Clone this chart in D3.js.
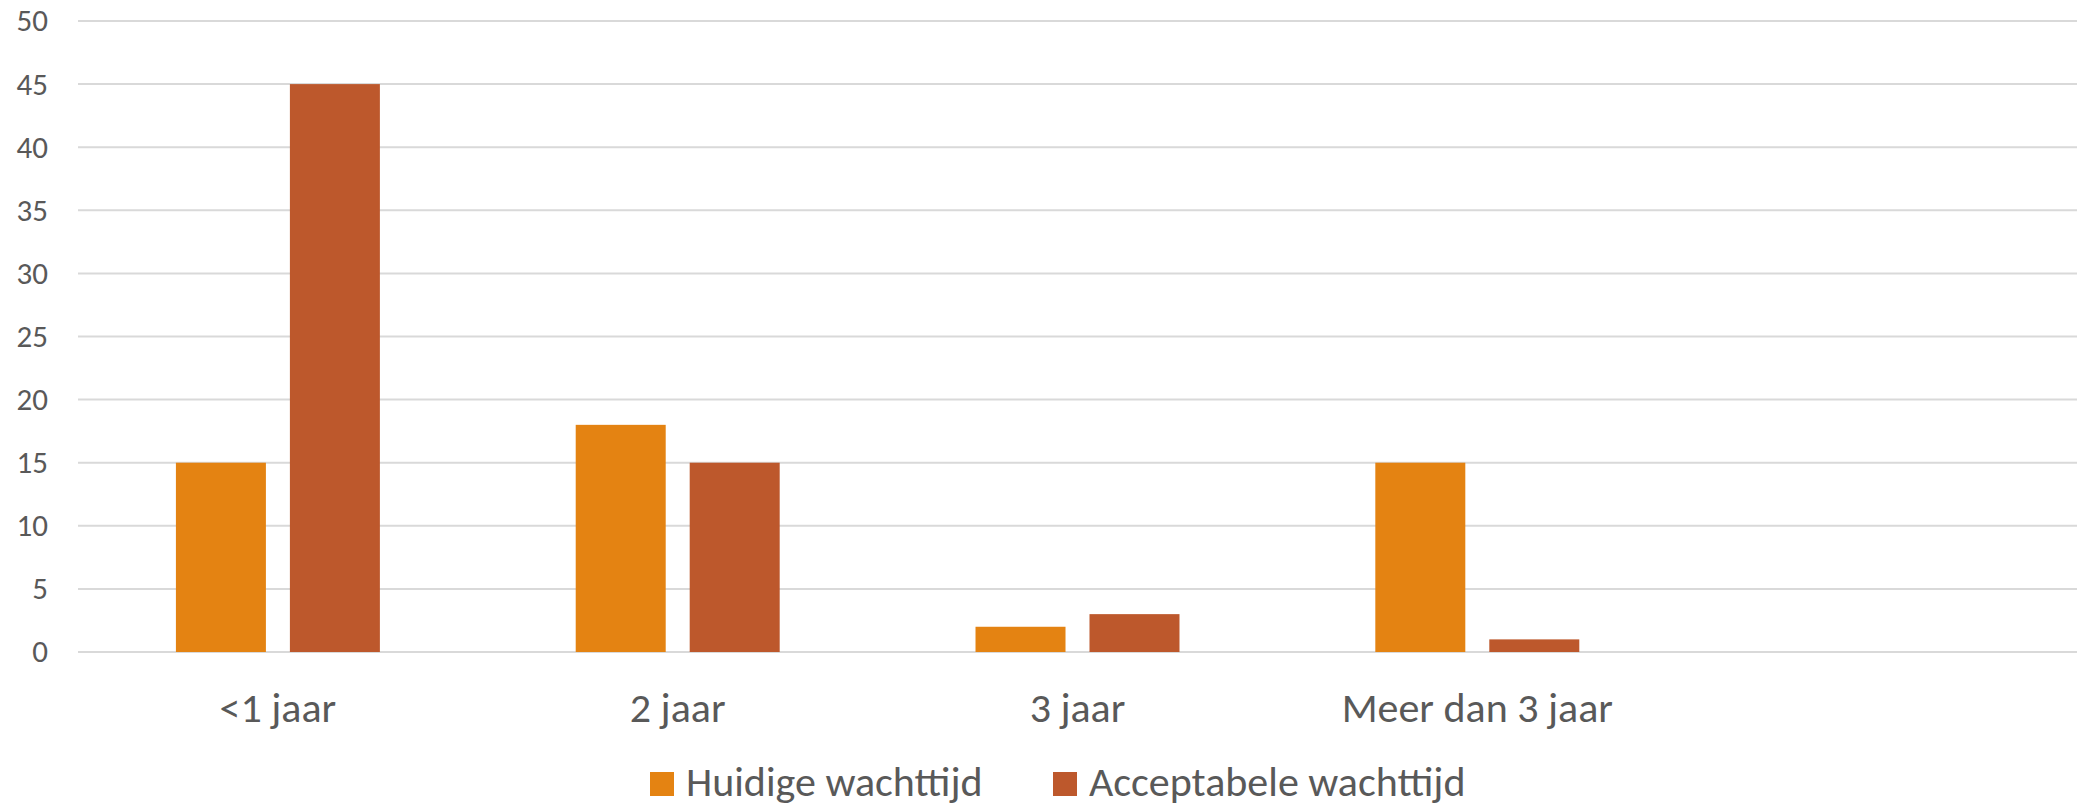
<!DOCTYPE html>
<html>
<head>
<meta charset="utf-8">
<script src="https://cdn.jsdelivr.net/npm/d3@7"></script>
<style>
	body { margin: 0; background: #fff; }
	svg { display: block; font-family: Calibri, Carlito, "Open Sans", sans-serif; }
	.grid line { stroke: #d9d9d9; stroke-width: 2; }
	.tick-label { fill: #595959; }
</style>
</head>
<body>
<div id="chart"></div>
<script>
// categories (the last one is an empty row in the source sheet)
const categories = ["<1 jaar", "2 jaar", "3 jaar", "Meer dan 3 jaar", ""];
const seriesNames = ["Huidige wachttijd", "Acceptabele wachttijd"];
const huidige = [15, 18, 2, 15, null];
const acceptabel = [45, 15, 3, 1, null];
const yTicks = [0, 5, 10, 15, 20, 25, 30, 35, 40, 45, 50];
const colors = ["#E48312", "#BD582C"];

const width = 2077, height = 807;
const margin = { top: 21, right: 0, bottom: 155, left: 78 };

const svg = d3.select("#chart")
	.append("svg")
	.attr("width", width)
	.attr("height", height);

const x0 = d3.scaleBand()
	.domain(categories)
	.range([margin.left, width - margin.right]);
const x1 = d3.scaleBand()
	.domain(seriesNames)
	.range([0, x0.bandwidth()])
	.paddingInner(0.2105)
	.paddingOuter(0.859);
const y = d3.scaleLinear()
	.domain([0, 50])
	.range([height - margin.bottom, margin.top]);

// gridlines
svg.append("g")
	.classed("grid", true)
	.selectAll("line")
	.data(yTicks)
	.enter()
	.append("line")
	.attr("x1", margin.left)
	.attr("x2", width - margin.right)
	.attr("y1", d => y(d))
	.attr("y2", d => y(d));

// y axis labels
const yAxis = d3.axisLeft(y).tickValues(yTicks).tickSize(0).tickPadding(0);
const yAxisGroup = svg.append("g")
	.attr("transform", "translate(48,0)")
	.call(yAxis)
	.attr("font-family", null)
	.attr("font-size", null);
yAxisGroup.select(".domain").remove();
yAxisGroup.selectAll("text")
	.classed("tick-label", true)
	.attr("fill", null)
	.style("font-size", "31px");

// bars
const table = categories.map((c, i) => ({ cat: c, values: [huidige[i], acceptabel[i]] }));
const group = svg.append("g")
	.selectAll("g")
	.data(table)
	.enter()
	.append("g")
	.attr("transform", d => "translate(" + x0(d.cat) + ",0)");
group.selectAll("rect")
	.data(d => d.values.map((v, i) => ({ name: seriesNames[i], value: v, i: i })).filter(d => d.value != null))
	.enter()
	.append("rect")
	.attr("x", d => x1(d.name))
	.attr("width", x1.bandwidth())
	.attr("y", d => y(d.value))
	.attr("height", d => y(0) - y(d.value))
	.attr("fill", d => colors[d.i]);

// x axis labels
const xAxis = d3.axisBottom(x0).tickSize(0).tickPadding(0);
const xAxisGroup = svg.append("g")
	.attr("transform", "translate(0," + 722 + ")")
	.call(xAxis)
	.attr("font-family", null)
	.attr("font-size", null);
xAxisGroup.select(".domain").remove();
xAxisGroup.selectAll("text")
	.classed("tick-label", true)
	.attr("fill", null)
	.attr("dy", null)
	.attr("y", 0)
	.style("font-size", "42px");

// legend
const legendX = [650, 1053];
const legend = svg.append("g")
	.selectAll("g")
	.data(seriesNames)
	.enter()
	.append("g")
	.attr("transform", (d, i) => "translate(" + legendX[i] + ",772)");
legend.append("rect")
	.attr("width", 24)
	.attr("height", 24)
	.attr("fill", (d, i) => colors[i]);
legend.append("text")
	.classed("tick-label", true)
	.attr("x", 36)
	.attr("y", 24)
	.style("font-size", "42px")
	.text(d => d);
</script>
</body>
</html>
